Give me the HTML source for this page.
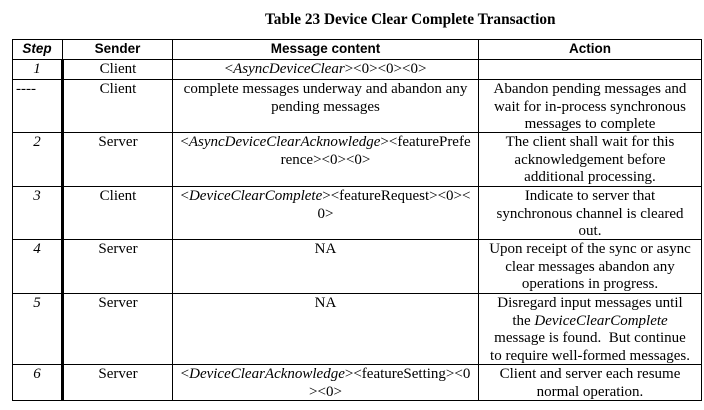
<!DOCTYPE html>
<html><head><style>
body{margin:0;width:704px;height:410px;background:#fff;position:relative;overflow:hidden;font-family:"Liberation Serif",serif;color:#000}
.h{position:absolute;background:#000;height:1px}
.v{position:absolute;background:#000;width:1px}
.c{position:absolute;text-align:center;font-size:15px;line-height:17.6px;white-space:nowrap}
.hd{position:absolute;text-align:center;font-family:"Liberation Sans",sans-serif;font-weight:bold;font-size:13.5px;top:41px}
i{font-style:italic}
</style></head><body>
<div style="position:absolute;left:265px;top:11px;white-space:nowrap;font-weight:bold;font-size:15.3px">Table 23 Device Clear Complete Transaction</div>
<div class="h" style="left:12px;width:690px;top:39px"></div>
<div class="h" style="left:12px;width:690px;top:59px"></div>
<div class="h" style="left:12px;width:690px;top:79px"></div>
<div class="h" style="left:12px;width:690px;top:132px"></div>
<div class="h" style="left:12px;width:690px;top:186px"></div>
<div class="h" style="left:12px;width:690px;top:239px"></div>
<div class="h" style="left:12px;width:690px;top:293px"></div>
<div class="h" style="left:12px;width:690px;top:364px"></div>
<div class="h" style="left:12px;width:690px;top:400px"></div>
<div class="v" style="left:12px;top:39px;height:362px"></div>
<div class="v" style="left:62px;top:39px;height:21px"></div>
<div class="v" style="left:61px;top:59px;height:342px;width:3px"></div>
<div class="v" style="left:172px;top:39px;height:362px"></div>
<div class="v" style="left:478px;top:39px;height:362px"></div>
<div class="v" style="left:701px;top:39px;height:362px"></div>

<div class="hd" style="left:12px;width:50px;font-style:italic">Step</div>
<div class="hd" style="left:63px;width:109px">Sender</div>
<div class="hd" style="left:173px;width:305px">Message content</div>
<div class="hd" style="left:479px;width:222px">Action</div>

<div class="c" style="left:12px;width:50px;top:61px"><i>1</i></div>
<div class="c" style="left:64px;width:108px;top:61px">Client</div>
<div class="c" style="left:173px;width:305px;top:61px">&lt;<i>AsyncDeviceClear</i>&gt;&lt;0&gt;&lt;0&gt;&lt;0&gt;</div>

<div class="c" style="left:16px;top:81px">----</div>
<div class="c" style="left:64px;width:108px;top:81px">Client</div>
<div class="c" style="left:173px;width:305px;top:81px">complete messages underway and abandon any<br>pending messages</div>
<div class="c" style="left:479px;width:222px;top:81px">Abandon pending messages and<br>wait for in-process synchronous<br>messages to complete</div>

<div class="c" style="left:12px;width:50px;top:134px"><i>2</i></div>
<div class="c" style="left:64px;width:108px;top:134px">Server</div>
<div class="c" style="left:173px;width:305px;top:134px">&lt;<i>AsyncDeviceClearAcknowledge</i>&gt;&lt;featurePrefe<br>rence&gt;&lt;0&gt;&lt;0&gt;</div>
<div class="c" style="left:479px;width:222px;top:134px">The client shall wait for this<br>acknowledgement before<br>additional processing.</div>

<div class="c" style="left:12px;width:50px;top:188px"><i>3</i></div>
<div class="c" style="left:64px;width:108px;top:188px">Client</div>
<div class="c" style="left:173px;width:305px;top:188px">&lt;<i>DeviceClearComplete</i>&gt;&lt;featureRequest&gt;&lt;0&gt;&lt;<br>0&gt;</div>
<div class="c" style="left:479px;width:222px;top:188px">Indicate to server that<br>synchronous channel is cleared<br>out.</div>

<div class="c" style="left:12px;width:50px;top:241px"><i>4</i></div>
<div class="c" style="left:64px;width:108px;top:241px">Server</div>
<div class="c" style="left:173px;width:305px;top:241px">NA</div>
<div class="c" style="left:479px;width:222px;top:241px">Upon receipt of the sync or async<br>clear messages abandon any<br>operations in progress.</div>

<div class="c" style="left:12px;width:50px;top:295px"><i>5</i></div>
<div class="c" style="left:64px;width:108px;top:295px">Server</div>
<div class="c" style="left:173px;width:305px;top:295px">NA</div>
<div class="c" style="left:479px;width:222px;top:295px">Disregard input messages until<br>the <i>DeviceClearComplete</i><br>message is found.&nbsp; But continue<br>to require well-formed messages.</div>

<div class="c" style="left:12px;width:50px;top:366px"><i>6</i></div>
<div class="c" style="left:64px;width:108px;top:366px">Server</div>
<div class="c" style="left:173px;width:305px;top:366px">&lt;<i>DeviceClearAcknowledge</i>&gt;&lt;featureSetting&gt;&lt;0<br>&gt;&lt;0&gt;</div>
<div class="c" style="left:479px;width:222px;top:366px">Client and server each resume<br>normal operation.</div>
</body></html>
